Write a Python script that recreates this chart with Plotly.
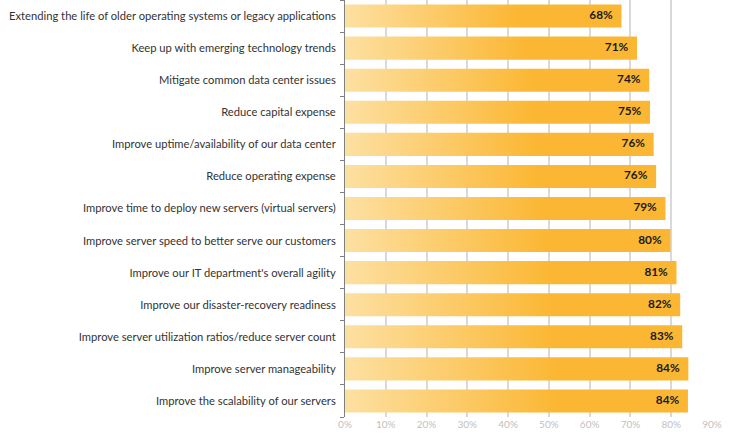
from plotly import graph_objects as go

# top to bottom, as in the survey chart
labels = [
    "Extending the life of older operating systems or legacy applications",
    "Keep up with emerging technology trends",
    "Mitigate common data center issues",
    "Reduce capital expense",
    "Improve uptime/availability of our data center",
    "Reduce operating expense",
    "Improve time to deploy new servers (virtual servers)",
    "Improve server speed to better serve our customers",
    "Improve our IT department's overall agility",
    "Improve our disaster-recovery readiness",
    "Improve server utilization ratios/reduce server count",
    "Improve server manageability",
    "Improve the scalability of our servers",
]
# bar lengths as measured, and the rounded labels printed on them
values = [67.8, 71.6, 74.6, 74.8, 75.7, 76.3, 78.6, 79.8, 81.3, 82.2, 82.7, 84.2, 84.1]
value_labels = ["68%", "71%", "74%", "75%", "76%", "76%", "79%", "80%", "81%", "82%", "83%", "84%", "84%"]
x_ticks = [0, 10, 20, 30, 40, 50, 60, 70, 80, 90]

LIGHT = "#FDE0A2"
DARK = "#FBB733"
half = 0.36

fig = go.Figure()

for i, v in enumerate(values):
    # one filled polygon per bar so it can carry the horizontal gradient
    fig.add_trace(go.Scatter(
        x=[0, v, v, 0, 0],
        y=[i - half, i - half, i + half, i + half, i - half],
        mode="lines", line=dict(width=0), fill="toself",
        fillgradient=dict(type="horizontal", start=0, stop=v,
                          colorscale=[[0, LIGHT], [0.62, DARK], [1, DARK]]),
        hoverinfo="skip", showlegend=False,
    ))

fig.add_trace(go.Scatter(
    x=values, y=list(range(len(values))), mode="text",
    text=[t + "\u2002\u00a0" for t in value_labels], textposition="middle left",
    textfont=dict(family="Lato", size=11.8, color="#1a1a1a", weight="bold"),
    hoverinfo="skip", showlegend=False, cliponaxis=False,
))

fig.update_layout(
    width=736, height=440,
    margin=dict(l=345, r=24, t=0, b=23),
    plot_bgcolor="white", paper_bgcolor="white",
    font=dict(family="Lato", size=11.2, color="#333333"),
    xaxis=dict(range=[0, 90], tickvals=x_ticks, ticktext=[f"{t}%" for t in x_ticks],
               showgrid=True, gridcolor="#D9D9D9", gridwidth=1.5, zeroline=False,
               tickfont=dict(size=10, color="#BFBFBF"), ticks="", automargin=False),
    yaxis=dict(range=[len(values) - 0.5, -0.5], tickvals=list(range(len(values))),
               ticktext=labels, showgrid=False, zeroline=False, automargin=False,
               showline=True, linecolor="#808080", linewidth=1, ticks="",
               ticklabelstandoff=6,
               minor=dict(tick0=0.5, dtick=1, ticks="outside", ticklen=4,
                          tickcolor="#808080", showgrid=False)),
)

fig.write_html("out.html", config={"displayModeBar": False},
               post_script="document.body.style.margin='0';")
